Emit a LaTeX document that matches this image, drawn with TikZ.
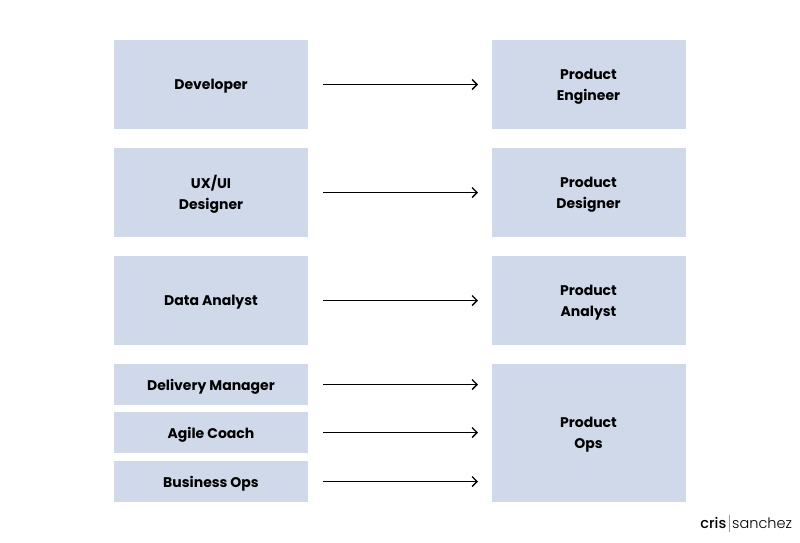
\documentclass[tikz,border=0pt]{standalone}
\usepackage{fontspec}
\setmainfont{Poppins}
\newfontfamily\poplight{Poppins Light}
\newfontfamily\popmed{Poppins Medium}
\usetikzlibrary{arrows.meta}

\definecolor{boxblue}{HTML}{D0D9EA}
\definecolor{logoblue}{HTML}{7F9CD6}

\tikzset{
  rolebox/.style={fill=boxblue, minimum width=194pt, inner sep=0pt, align=center,
    text depth=0pt, font=\fontsize{14}{21}\selectfont\bfseries},
  movearrow/.style={-{Straight Barb[length=5pt,width=10pt]}, line width=1.3pt}
}

\begin{document}
\begin{tikzpicture}[x=1pt,y=-1pt]

\useasboundingbox[fill=white] (0,0) rectangle (800,542);

% old roles
\node[rolebox, minimum height=89pt] (dev) at (211,84.5) {Developer};
\node[rolebox, minimum height=89pt] (ux) at (211,192.5) {UX/UI\\Designer};
\node[rolebox, minimum height=89pt] (data) at (211,300.5) {Data Analyst};
\node[rolebox, minimum height=41pt] (dm) at (211,384.5) {Delivery Manager};
\node[rolebox, minimum height=41pt] (agile) at (211,432.5) {Agile Coach};
\node[rolebox, minimum height=41pt] (bizops) at (211,481.5) {Business Ops};

% product roles
\node[rolebox, minimum height=89pt] (peng) at (588.5,84.5) {Product\\Engineer};
\node[rolebox, minimum height=89pt] (pdes) at (588.5,192.5) {Product\\Designer};
\node[rolebox, minimum height=89pt] (pana) at (588.5,300.5) {Product\\Analyst};
\node[rolebox, minimum height=138pt] (pops) at (588.5,433) {Product\\Ops};

% arrow ends
\coordinate (e1) at (478,84.5);
\coordinate (e2) at (478,192.5);
\coordinate (e3) at (478,300.5);
\coordinate (e4) at (478,384.5);
\coordinate (e5) at (478,432.5);
\coordinate (e6) at (478,481.5);

\draw[movearrow] ([xshift=15pt]dev.east) -- (e1);
\draw[movearrow] ([xshift=15pt]ux.east) -- (e2);
\draw[movearrow] ([xshift=15pt]data.east) -- (e3);
\draw[movearrow] ([xshift=15pt]dm.east) -- (e4);
\draw[movearrow] ([xshift=15pt]agile.east) -- (e5);
\draw[movearrow] ([xshift=15pt]bizops.east) -- (e6);

% logo
\node[anchor=base east, inner sep=0pt, font=\fontsize{14.5}{16}\popmed] (cris) at (726.5,528) {cris};
\node[anchor=base west, inner sep=0pt, font=\fontsize{14.5}{16}\poplight] (sanchez) at (732,528) {sanchez};
\draw[logoblue, line width=0.8pt] (729.3,515) -- (729.3,532);

\end{tikzpicture}
\end{document}
